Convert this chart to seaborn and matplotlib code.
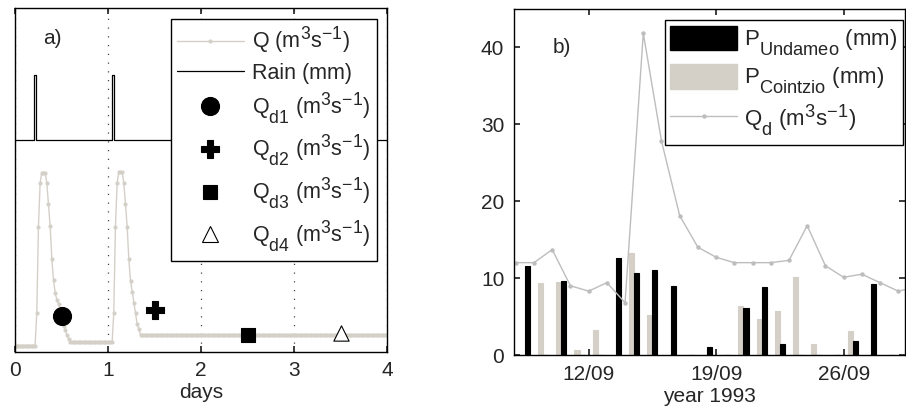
import numpy as np
import pandas as pd
import matplotlib
matplotlib.use("Agg")
import matplotlib.pyplot as plt
import matplotlib.patches as mpatches
import matplotlib._mathtext as mathtext_internals
from matplotlib.lines import Line2D
import seaborn as sns


# ---- panel a) : synthetic event (arbitrary units)
Q_STEP = 0.018  # days between two discharge samples
q_values = ([1.8] * 13
            + [11.2, 36.4, 49.1, 52.2, 52.2, 52.2, 49.1, 43.0, 36.6, 27.0,
               20.9, 17.2, 15.1, 13.9, 12.2, 10.0, 7.6, 6.3, 4.9, 3.6]
            + [2.8] * 26
            + [11.2, 36.4, 49.1, 52.4, 52.4, 52.4, 49.1, 43.0, 36.4, 26.9,
               20.7, 17.5, 14.3, 11.2, 8.0, 6.5]
            + [4.9] * 148)

rain_t = [0.0, 0.209, 0.229, 1.040, 1.060, 4.0]
rain_mm = [0, 19, 0, 19, 0, 0]
RAIN_BASE = 61.7  # rain is drawn on top of the hydrograph

qd_t = [0.5, 1.5, 2.5, 3.5]
qd_vals = [10.5, 12.2, 4.9, 5.4]

# ---- panel b) : September 1993
days = list(range(8, 30))
p_undameo = [11.6, 0, 9.6, 0, 0, 12.6, 10.7, 11.1, 9.0, 0, 1.1,
             0, 6.1, 8.8, 1.4, 0, 0, 0, 1.8, 9.25, 0, 0]
p_cointzio = [0, 9.4, 9.5, 0.6, 3.3, 0, 13.2, 5.2, 0, 0, 0,
              0, 6.4, 4.7, 5.7, 10.1, 1.4, 0, 3.1, 0, 0, 0]
qd_days = list(range(8, 31))
qd_daily = [12.0, 12.0, 13.7, 9.0, 8.3, 9.4, 6.8, 41.8, 27.8, 18.1, 14.0, 12.7,
            12.0, 12.0, 12.0, 12.3, 16.8, 11.6, 10.1, 10.5, 9.4, 8.3, 8.8]
tick_days = [12, 19, 26]

GREY = "#d4d0c8"
QD_GREY = "#bdbdbd"

sns.set_theme(style="ticks")
plt.rcParams["font.family"] = ["Liberation Sans", "DejaVu Sans"]
plt.rcParams["mathtext.default"] = "regular"
plt.rcParams["font.size"] = 15
plt.rcParams["axes.linewidth"] = 1.0
plt.rcParams["axes.edgecolor"] = "black"
# sub/superscripts in the original are barely smaller and dropped lower
mathtext_internals.SHRINK_FACTOR = 0.82
mathtext_internals.FontConstantsBase.sub1 = 0.85

fig = plt.figure(figsize=(9.06, 4.16), dpi=100)
ax1 = fig.add_axes([0.01656, 0.1546, 0.4106, 0.825])
ax2 = fig.add_axes([0.5673, 0.1466, 0.4316, 0.8325])

# ---------------- a)
q_t = np.arange(len(q_values)) * Q_STEP
sns.lineplot(x=q_t, y=q_values, color=GREY, lw=1, marker="o", markersize=3.0,
             markeredgewidth=0, ax=ax1)
sns.lineplot(x=rain_t, y=[RAIN_BASE + r for r in rain_mm], color="black", lw=0.9,
             drawstyle="steps-post", ax=ax1)

qd_style = [("o", 169, "black", "black"), ("P", 150, "black", "black"),
            ("s", 110, "black", "black"), ("^", 121, "white", "black")]
for t, v, (m, s, fc, ec) in zip(qd_t, qd_vals, qd_style):
    sns.scatterplot(x=[t], y=[v], marker=m, s=s, color=fc, edgecolor=ec,
                    linewidth=0.8, zorder=5, ax=ax1)

ax1.set_xlim(0, 4)
ax1.set_ylim(0, 100)
ax1.set_yticks([])
ax1.set_xticks([0, 1, 2, 3, 4])
ax1.tick_params(direction="in", top=True, length=4, pad=7, labelsize=15)
ax1.xaxis.grid(True, linestyle=(0, (1, 6)), color="#444444", lw=0.9)
ax1.set_xlabel("days", fontsize=15, labelpad=2)
ax1.set_ylabel("")
ax1.text(0.3, 91.4, "a)", fontsize=15, va="center")

q_lbl = " (m$^{3}$s$^{-1}$)"
h1 = [Line2D([], [], color=GREY, lw=1, marker="o", markersize=3.0, markeredgewidth=0),
      Line2D([], [], color="black", lw=0.9)]
for m, s, fc, ec in qd_style:
    h1.append(Line2D([], [], ls="none", marker=m, markersize=np.sqrt(s),
                     markerfacecolor=fc, markeredgecolor=ec, markeredgewidth=0.8))
l1 = ["Q" + q_lbl, "Rain (mm)"] + ["Q$_{d%d}$" % i + q_lbl for i in range(1, 5)]
leg1 = ax1.legend(h1, l1, loc="upper right", bbox_to_anchor=(376.7 / 906, 1 - 19.3 / 416),
                  bbox_transform=fig.transFigure, borderaxespad=0, fontsize=15.5,
                  handlelength=3.1, handletextpad=0.4, labelspacing=0.3,
                  borderpad=0.28, fancybox=False, framealpha=1, numpoints=1)
leg1.get_frame().set_edgecolor("black")
leg1.get_frame().set_linewidth(1.0)

# ---------------- b)
# daily rain totals are drawn at mid-day
bars = pd.DataFrame({
    "x": [d + 0.5 for d in days] * 2,
    "P": p_undameo + p_cointzio,
    "station": ["Undameo"] * len(days) + ["Cointzio"] * len(days),
})
sns.barplot(data=bars, x="x", y="P", hue="station", hue_order=["Cointzio", "Undameo"],
            palette={"Cointzio": GREY, "Undameo": "black"}, native_scale=True,
            width=0.56, errorbar=None, saturation=1, legend=False, ax=ax2)
for p in ax2.patches:
    p.set_edgecolor(p.get_facecolor())
    p.set_linewidth(0.8)

sns.lineplot(x=qd_days, y=qd_daily, color=QD_GREY, lw=1, marker="o", markersize=3.2,
             markeredgewidth=0, ax=ax2)

ax2.set_xlim(7.9, 29.37)
ax2.set_ylim(0, 45)
ax2.set_yticks([0, 10, 20, 30, 40])
ax2.set_xticks(tick_days)
ax2.set_xticklabels(["%02d/09" % d for d in tick_days])
ax2.tick_params(direction="in", top=True, right=True, length=4, pad=7, labelsize=15)
ax2.set_xlabel("year 1993", fontsize=15, labelpad=2)
ax2.set_ylabel("")
ax2.text(10.0, 40, "b)", fontsize=15, va="center")

h2 = [mpatches.Patch(facecolor="black", edgecolor="black"),
      mpatches.Patch(facecolor=GREY, edgecolor=GREY),
      Line2D([], [], color=QD_GREY, lw=1, marker="o", markersize=3.2, markeredgewidth=0)]
l2 = ["P$_{Undameo}$ (mm)", "P$_{Cointzio}$ (mm)", "Q$_{d}$" + q_lbl]
leg2 = ax2.legend(h2, l2, loc="upper right", bbox_to_anchor=(902.7 / 906, 1 - 20.3 / 416),
                  bbox_transform=fig.transFigure, borderaxespad=0, fontsize=16,
                  handlelength=3.0, handleheight=1.3, handletextpad=0.3,
                  labelspacing=0.3, borderpad=0.25, fancybox=False, framealpha=1)
leg2.get_frame().set_edgecolor("black")
leg2.get_frame().set_linewidth(1.0)

fig.savefig("out.png", dpi=100)
